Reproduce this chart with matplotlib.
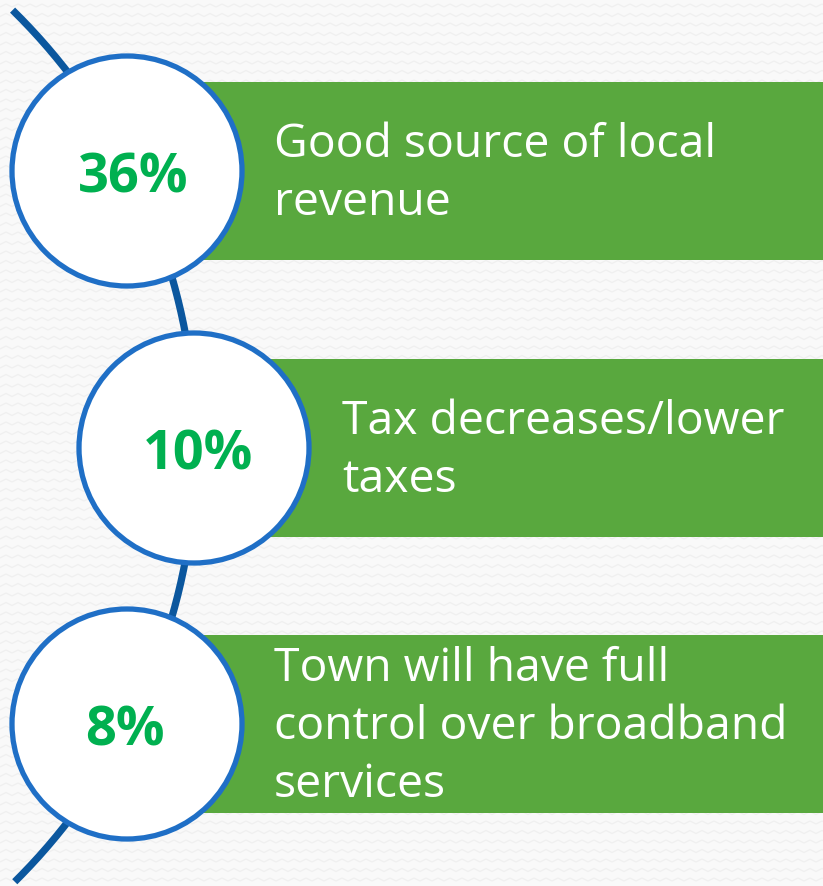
import numpy as np
import matplotlib.pyplot as plt
from matplotlib.patches import Circle, Rectangle

# reasons and the share of respondents giving each
shares = ["36%", "10%", "8%"]
reasons = ["Good source of local\nrevenue",
           "Tax decreases/lower\ntaxes",
           "Town will have full\ncontrol over broadband\nservices"]

W, H = 823, 886
green_bar = "#59A83E"
green_txt = "#00B050"
ring_blue = "#1F6FC6"
line_blue = "#0B579E"

fig = plt.figure(figsize=(W / 100, H / 100), dpi=100)
ax = fig.add_axes([0, 0, 1, 1])
ax.set_xlim(0, W)
ax.set_ylim(H, 0)
ax.axis("off")
fig.patch.set_facecolor("#F9F9F9")

# faint zigzag texture in the background
zx = np.arange(-6, W + 12, 6)
for row in np.arange(4, H, 9.5):
    zy = row + np.where((np.arange(len(zx)) % 2) == 0, 0, 3)
    ax.plot(zx, zy, color="#F0F0F0", lw=0.9, zorder=0)

# the arc that threads through the circles
t = np.linspace(-0.795, 0.79, 300)
cx, cy, r = -416, 447, 612
ax.plot(cx + r * np.cos(t), cy + r * np.sin(t), color=line_blue, lw=5.2,
        solid_capstyle="butt", zorder=1)

centers_x = [127, 194, 127]
centers_y = [171, 448, 724]
pct_dx = [6, 4, -2]
bar_h = 178
text_x = [274, 342, 274]
line_gap = 58

for i in range(3):
    x0, y0 = centers_x[i], centers_y[i]
    ax.add_patch(Rectangle((x0, y0 - bar_h / 2), W - x0 + 5, bar_h,
                           facecolor=green_bar, edgecolor="none", zorder=2))
    ax.add_patch(Circle((x0, y0), 115, facecolor="white", edgecolor=ring_blue,
                        lw=3.8, zorder=3))
    ax.text(x0 + pct_dx[i], y0 + 21, shares[i], color=green_txt, fontsize=39,
            fontweight="bold", family="Open Sans", ha="center", va="baseline",
            zorder=4)
    lines = reasons[i].split("\n")
    n = len(lines)
    first = y0 + 15 - (n - 1) * line_gap / 2
    for j, ln in enumerate(lines):
        ax.text(text_x[i], first + j * line_gap, ln, color="white", fontsize=33.3,
                family="Open Sans", ha="left", va="baseline", zorder=4)

fig.savefig("out.png", dpi=100, facecolor=fig.get_facecolor())
